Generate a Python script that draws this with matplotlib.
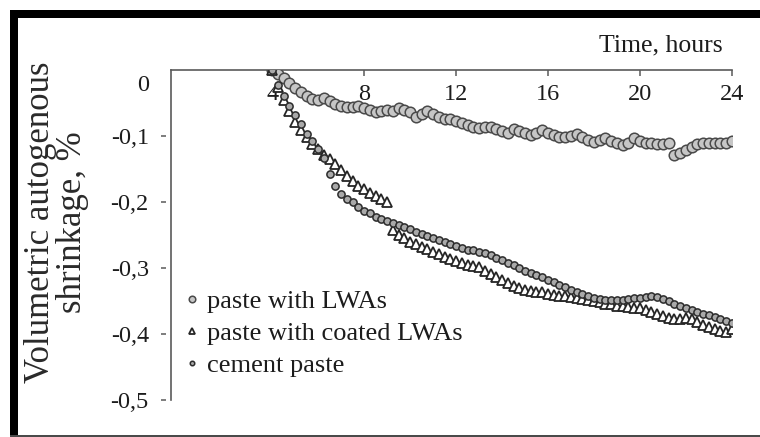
import matplotlib
matplotlib.use("Agg")
import matplotlib.pyplot as plt
from matplotlib.patches import Rectangle
from matplotlib.markers import MarkerStyle
from matplotlib.path import Path
from matplotlib.transforms import ScaledTranslation

plt.rcParams['font.family'] = ['Liberation Serif', 'DejaVu Serif']

# Measurement times, hours
hours = [4.0, 4.25, 4.5, 4.75, 5.0, 5.25, 5.5, 5.75, 6.0, 6.25, 6.5, 6.75,
         7.0, 7.25, 7.5, 7.75, 8.0, 8.25, 8.5, 8.75, 9.0, 9.25, 9.5, 9.75,
         10.0, 10.25, 10.5, 10.75, 11.0, 11.25, 11.5, 11.75, 12.0, 12.25, 12.5, 12.75,
         13.0, 13.25, 13.5, 13.75, 14.0, 14.25, 14.5, 14.75, 15.0, 15.25, 15.5, 15.75,
         16.0, 16.25, 16.5, 16.75, 17.0, 17.25, 17.5, 17.75, 18.0, 18.25, 18.5, 18.75,
         19.0, 19.25, 19.5, 19.75, 20.0, 20.25, 20.5, 20.75, 21.0, 21.25, 21.5, 21.75,
         22.0, 22.25, 22.5, 22.75, 23.0, 23.25, 23.5, 23.75, 24.0]

# Volumetric autogenous shrinkage, %
paste_lwa = [0.000, -0.006, -0.012, -0.020, -0.027, -0.034, -0.040, -0.044, -0.045, -0.043, -0.047, -0.051,
             -0.054, -0.056, -0.056, -0.055, -0.058, -0.061, -0.063, -0.062, -0.060, -0.062, -0.058, -0.061,
             -0.064, -0.071, -0.066, -0.062, -0.067, -0.071, -0.074, -0.074, -0.077, -0.080, -0.083, -0.086,
             -0.088, -0.087, -0.086, -0.090, -0.092, -0.095, -0.089, -0.092, -0.095, -0.098, -0.095, -0.091,
             -0.095, -0.099, -0.102, -0.101, -0.100, -0.097, -0.102, -0.106, -0.109, -0.106, -0.103, -0.108,
             -0.111, -0.114, -0.110, -0.103, -0.107, -0.110, -0.111, -0.112, -0.112, -0.111, -0.129, -0.125,
             -0.121, -0.117, -0.112, -0.111, -0.111, -0.111, -0.111, -0.110, -0.108]

paste_coated_lwa = [0.000, -0.025, -0.045, -0.062, -0.078, -0.091, -0.102, -0.112, -0.120, -0.128, -0.135, -0.143,
                    -0.152, -0.160, -0.168, -0.175, -0.180, -0.186, -0.191, -0.196, -0.200, -0.242, -0.250, -0.255,
                    -0.260, -0.264, -0.268, -0.271, -0.276, -0.279, -0.284, -0.287, -0.290, -0.293, -0.295, -0.297,
                    -0.299, -0.304, -0.309, -0.313, -0.318, -0.322, -0.327, -0.331, -0.334, -0.335, -0.336, -0.337,
                    -0.339, -0.341, -0.342, -0.343, -0.344, -0.345, -0.347, -0.348, -0.350, -0.352, -0.354, -0.355,
                    -0.357, -0.358, -0.359, -0.360, -0.361, -0.364, -0.367, -0.370, -0.372, -0.375, -0.378, -0.377,
                    -0.376, -0.378, -0.382, -0.386, -0.389, -0.392, -0.395, -0.397, -0.393]

cement_paste = [0.000, -0.022, -0.040, -0.055, -0.068, -0.082, -0.097, -0.108, -0.120, -0.133, -0.158, -0.176,
                -0.188, -0.195, -0.200, -0.207, -0.213, -0.217, -0.222, -0.225, -0.228, -0.232, -0.235, -0.238,
                -0.241, -0.245, -0.248, -0.251, -0.255, -0.258, -0.261, -0.264, -0.267, -0.270, -0.273, -0.272,
                -0.275, -0.278, -0.281, -0.285, -0.288, -0.292, -0.296, -0.300, -0.304, -0.307, -0.310, -0.314,
                -0.318, -0.321, -0.325, -0.329, -0.333, -0.337, -0.340, -0.343, -0.345, -0.347, -0.348, -0.348,
                -0.348, -0.348, -0.347, -0.346, -0.345, -0.344, -0.343, -0.344, -0.347, -0.350, -0.354, -0.357,
                -0.360, -0.363, -0.366, -0.369, -0.371, -0.374, -0.377, -0.380, -0.383]

x_ticks = [4, 8, 12, 16, 20, 24]
y_ticks = [0, -0.1, -0.2, -0.3, -0.4, -0.5]
y_tick_labels = ['0', '-0,1', '-0,2', '-0,3', '-0,4', '-0,5']

text_color = '#1c1c1c'
spine_color = '#5a5a5a'

fig = plt.figure(figsize=(7.6, 4.37), dpi=100)
ax = fig.add_axes([0.225, 0.0847, 0.738, 0.755])

ax.plot(hours, paste_lwa, linestyle='none', marker='o', ms=7.6,
        mfc='#c6c6c6', mec='#4a4a4a', mew=1.1, label='paste with LWAs', zorder=3)
ax.plot(hours, paste_coated_lwa, linestyle='none', marker='^', ms=6.8,
        mfc='white', mec='#252525', mew=1.3, label='paste with coated LWAs', zorder=4)
ax.plot(hours, cement_paste, linestyle='none', marker='o', ms=5.2,
        mfc='#a9a9a9', mec='#2c2c2c', mew=1.1, label='cement paste', zorder=5)

ax.set_xlim(-0.4, 24)
ax.set_ylim(-0.5, 0)

for side in ('right', 'bottom'):
    ax.spines[side].set_visible(False)
for side in ('top', 'left'):
    ax.spines[side].set_color(spine_color)
    ax.spines[side].set_linewidth(1.2)

# time axis along the top, labels hanging below the line
ax.set_xticks(x_ticks)
ax.set_xticklabels([str(t) for t in x_ticks])
ax.tick_params(axis='x', top=True, bottom=False, labeltop=True, labelbottom=False,
               direction='in', length=4, width=1.1, color=spine_color,
               pad=-25, labelsize=17.5, labelcolor=text_color)

ax.set_yticks(y_ticks)
ax.set_yticklabels(y_tick_labels)
ax.tick_params(axis='y', left=True, right=False, direction='out', length=0,
               pad=16, labelsize=17.5, labelcolor=text_color)

# short dashes standing a little apart from the left spine
dash = MarkerStyle(Path([(-1.0, 0.0), (-0.5, 0.0)], [Path.MOVETO, Path.LINETO]))
for i, tick in enumerate(ax.yaxis.get_major_ticks()):
    tick.tick1line.set_marker(dash)
    tick.tick1line.set_markersize(14.4)
    tick.tick1line.set_markeredgewidth(1.1)
    tick.tick1line.set_markeredgecolor(spine_color)
    if y_ticks[i] == 0:
        tick.tick1line.set_visible(False)
        tick.label1.set_transform(tick.label1.get_transform() +
                                  ScaledTranslation(0, -0.13, fig.dpi_scale_trans))

ax.set_ylabel('Volumetric autogenous\nshrinkage, %', fontsize=25, color='#2a2a2a',
              va='center', ha='center', linespacing=0.98)
ax.yaxis.set_label_coords(-0.204, 0.54)

ax.text(0.984, 1.076, 'Time, hours', transform=ax.transAxes, ha='right', va='center',
        fontsize=18.5, color=text_color)

leg = ax.legend(loc='upper left', bbox_to_anchor=(0.025, 0.335), frameon=False,
                fontsize=19, markerscale=0.62, handlelength=0.5, handletextpad=0.35,
                labelspacing=0.33, borderpad=0, borderaxespad=0)
for t in leg.get_texts():
    t.set_color(text_color)

# frame around the figure
fig.patches.append(Rectangle((10 / 760, 0), 7.5 / 760, 1 - 10 / 437, transform=fig.transFigure,
                             facecolor='black', edgecolor='none', zorder=10))
fig.patches.append(Rectangle((10 / 760, 1 - 17.5 / 437), 1, 7.5 / 437, transform=fig.transFigure,
                             facecolor='black', edgecolor='none', zorder=10))
fig.patches.append(Rectangle((10 / 760, 0.5 / 437), 1, 1.6 / 437, transform=fig.transFigure,
                             facecolor='#4a4a4a', edgecolor='none', zorder=10))

fig.savefig('out.png', dpi=100)
